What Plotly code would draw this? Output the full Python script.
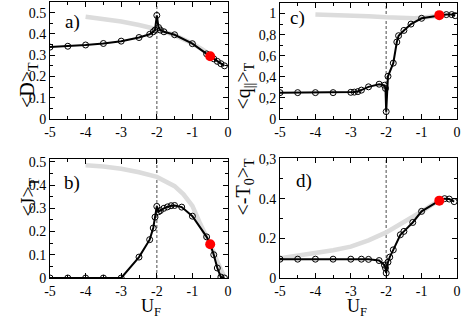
import plotly.graph_objects as go

# ---------------- data ----------------
# panel a) <D>_T
a_x = [-5, -4.5, -4, -3.5, -3, -2.5, -2.2, -2.1, -2.05, -2.0, -1.95, -1.9, -1.8, -1.5, -1.0, -0.6, -0.5, -0.4, -0.3, -0.2, -0.1]
a_y = [0.338, 0.342, 0.348, 0.355, 0.366, 0.383, 0.398, 0.41, 0.418, 0.487, 0.43, 0.418, 0.41, 0.396, 0.354, 0.306, 0.295, 0.283, 0.271, 0.26, 0.25]
a_gx = [-4, -3.5, -3, -2.5, -2, -1.5, -1, -0.7, -0.5, -0.4]
a_gy = [0.481, 0.47, 0.458, 0.442, 0.422, 0.394, 0.355, 0.325, 0.3, 0.29]
a_red = (-0.5, 0.295)

# panel b) <J>_T
b_x = [-5, -4.5, -4, -3.5, -3, -2.5, -2.2, -2.1, -2.05, -2.0, -1.95, -1.9, -1.8, -1.7, -1.6, -1.5, -1.3, -1.0, -0.6, -0.5, -0.4, -0.3, -0.2, -0.1]
b_y = [0, 0, 0, 0, 0, 0.09, 0.165, 0.215, 0.262, 0.308, 0.285, 0.29, 0.3, 0.306, 0.311, 0.312, 0.305, 0.266, 0.177, 0.146, 0.1, 0.043, 0.004, 0]
b_gx = [-4, -3.5, -3, -2.5, -2, -1.5, -1.25, -1, -0.8, -0.6, -0.5, -0.4, -0.3, -0.2, -0.1]
b_gy = [0.485, 0.48, 0.47, 0.455, 0.435, 0.395, 0.36, 0.31, 0.24, 0.18, 0.15, 0.11, 0.07, 0.03, 0.003]
b_red = (-0.5, 0.145)

# panel c) <q_||>_T
c_x = [-5, -4.5, -4, -3.5, -3, -2.9, -2.8, -2.7, -2.5, -2.2, -2.05, -2.02, -2.0, -1.95, -1.8, -1.7, -1.65, -1.5, -1.3, -1.0, -0.5, -0.3, -0.15, -0.05]
c_y = [0.25, 0.25, 0.25, 0.25, 0.253, 0.255, 0.26, 0.274, 0.305, 0.33, 0.32, 0.29, 0.07, 0.405, 0.53, 0.73, 0.79, 0.84, 0.9, 0.955, 0.985, 0.99, 0.99, 0.98]
c_gx = [-4, -3, -2.5, -2, -1.5, -1.2, -1, -0.7, -0.5]
c_gy = [0.99, 0.985, 0.975, 0.965, 0.955, 0.955, 0.96, 0.97, 0.98]
c_red = (-0.5, 0.985)

# panel d) <-T_0>_T
d_x = [-5, -4.5, -4, -3.5, -3, -2.7, -2.5, -2.2, -2.05, -2.02, -2.0, -1.95, -1.9, -1.8, -1.6, -1.5, -1.25, -1.0, -0.5, -0.35, -0.22, -0.08]
d_y = [0.095, 0.095, 0.095, 0.095, 0.095, 0.095, 0.094, 0.088, 0.065, 0.05, 0.025, 0.08, 0.105, 0.142, 0.218, 0.235, 0.28, 0.336, 0.39, 0.4, 0.398, 0.385]
d_gx = [-5, -4.5, -4, -3.5, -3, -2.5, -2, -1.5, -1, -0.7, -0.5]
d_gy = [0.1, 0.112, 0.125, 0.14, 0.158, 0.19, 0.23, 0.28, 0.335, 0.37, 0.39]
d_red = (-0.5, 0.39)

x_ticks = [-5, -4, -3, -2, -1, 0]
x_ticktext = ["-5", "-4", "-3", "-2", "-1", "0"]
a_ticks = [0, 0.1, 0.2, 0.3, 0.4, 0.5]
a_ticktext = ["0", "0.1", "0.2", "0.3", "0.4", "0.5"]
b_ticks = [0, 0.1, 0.2, 0.3, 0.4, 0.5]
b_ticktext = ["0", "0.1", "0.2", "0.3", "0.4", "0.5"]
c_ticks = [0, 0.2, 0.4, 0.6, 0.8, 1.0]
c_ticktext = ["0", "0,2", "0,4", "0,6", "0,8", "1"]
d_ticks = [0, 0.2, 0.4, 0.6]
d_ticktext = ["0", "0.2", "0.4", "0,3"]

# ---------------- figure ----------------
W, H = 463, 319
FONT = "Liberation Serif, DejaVu Serif, Noto Serif, serif"

panels = [
    ("1", a_x, a_y, a_gx, a_gy, a_red, [0, 0.55], a_ticks, a_ticktext, 0.05, (50, 228), (2, 119), "a)", (-4.38, 0.458), "&lt;D&gt;<sub>T</sub>"),
    ("2", b_x, b_y, b_gx, b_gy, b_red, [0, 0.512], b_ticks, b_ticktext, 0.05, (50, 228), (159, 278), "b)", (-4.38, 0.41), "&lt;J&gt;<sub>T</sub>"),
    ("3", c_x, c_y, c_gx, c_gy, c_red, [0, 1.1], c_ticks, c_ticktext, 0.1, (280, 457), (3, 119), "c)", (-4.5, 0.96), "&lt;q<sub>||</sub>&gt;<sub>T</sub>"),
    ("4", d_x, d_y, d_gx, d_gy, d_red, [0, 0.605], d_ticks, d_ticktext, 0.1, (280, 457), (158, 278), "d)", (-4.32, 0.49), "&lt;-T<sub>0</sub>&gt;<sub>T</sub>"),
]

fig = go.Figure()
layout = dict(
    template="none",
    width=W, height=H,
    margin=dict(l=0, r=0, t=0, b=0, pad=0, autoexpand=False),
    paper_bgcolor="white", plot_bgcolor="white",
    showlegend=False,
    font=dict(family=FONT, size=14, color="black"),
    annotations=[], shapes=[],
)

for (n, x, y, gx, gy, red, yr, yt, ytt, ymin, xd, yd, lab, lpos, title) in panels:
    xa = "x" if n == "1" else "x" + n
    ya = "y" if n == "1" else "y" + n
    fig.add_trace(go.Scatter(x=gx, y=gy, mode="lines", line=dict(color="#dcdcdc", width=4.5),
                             xaxis=xa, yaxis=ya, hoverinfo="skip"))
    fig.add_trace(go.Scatter(x=x, y=y, mode="lines+markers",
                             line=dict(color="black", width=2),
                             marker=dict(symbol="circle-open", size=6, color="black", line=dict(width=1)),
                             xaxis=xa, yaxis=ya))
    fig.add_trace(go.Scatter(x=[red[0]], y=[red[1]], mode="markers",
                             marker=dict(color="red", size=10), xaxis=xa, yaxis=ya))
    xkey = "xaxis" if n == "1" else "xaxis" + n
    ykey = "yaxis" if n == "1" else "yaxis" + n
    layout[xkey] = dict(
        domain=[xd[0] / W, xd[1] / W], anchor=ya, range=[-5, 0], automargin=False,
        tickmode="array", tickvals=x_ticks, ticktext=x_ticktext, ticks="inside", ticklen=5, tickwidth=1,
        tickcolor="black", showline=True, linecolor="black", linewidth=1, mirror="allticks",
        showgrid=False, zeroline=False, tickfont=dict(size=14, family=FONT, color="black"),
        minor=dict(dtick=0.5, tick0=0, ticks="inside", ticklen=3, tickcolor="black", showgrid=False),
    )
    layout[ykey] = dict(
        domain=[1 - yd[1] / H, 1 - yd[0] / H], anchor=xa, range=yr, automargin=False,
        tickmode="array", tickvals=yt, ticktext=ytt, ticks="inside", ticklen=5, tickwidth=1,
        tickcolor="black", showline=True, linecolor="black", linewidth=1, mirror="allticks",
        showgrid=False, zeroline=False, tickfont=dict(size=14, family=FONT, color="black"),
        minor=dict(dtick=ymin, tick0=0, ticks="inside", ticklen=3, tickcolor="black", showgrid=False),
    )
    layout["shapes"].append(dict(type="line", xref=xa, yref=ya, x0=-2, x1=-2, y0=0, y1=yr[1],
                                 line=dict(color="#888888", width=1.5, dash="3px,2px"), layer="below"))
    layout["annotations"].append(dict(x=lpos[0], y=lpos[1], xref=xa, yref=ya, text=lab, showarrow=False,
                                      font=dict(size=19, family=FONT, color="black")))
    cx = (xd[0] - 36) / W
    cy = 1 - ((yd[0] + yd[1]) / 2) / H
    layout["annotations"].append(dict(x=cx, y=cy, xref="paper", yref="paper", text=title, showarrow=False,
                                      textangle=-90, font=dict(size=20, family=FONT, color="black")))
    if n in ("2", "4"):
        layout["annotations"].append(dict(x=((xd[0] + xd[1]) / 2) / W, y=1 - 294 / H, xref="paper", yref="paper",
                                          yanchor="top", text="U<sub>F</sub>", showarrow=False,
                                          font=dict(size=18, family=FONT, color="black")))

fig.update_layout(**layout)
fig.write_html("out.html", config={"displayModeBar": False},
               post_script="document.body.style.margin='0';document.body.style.padding='0';")
